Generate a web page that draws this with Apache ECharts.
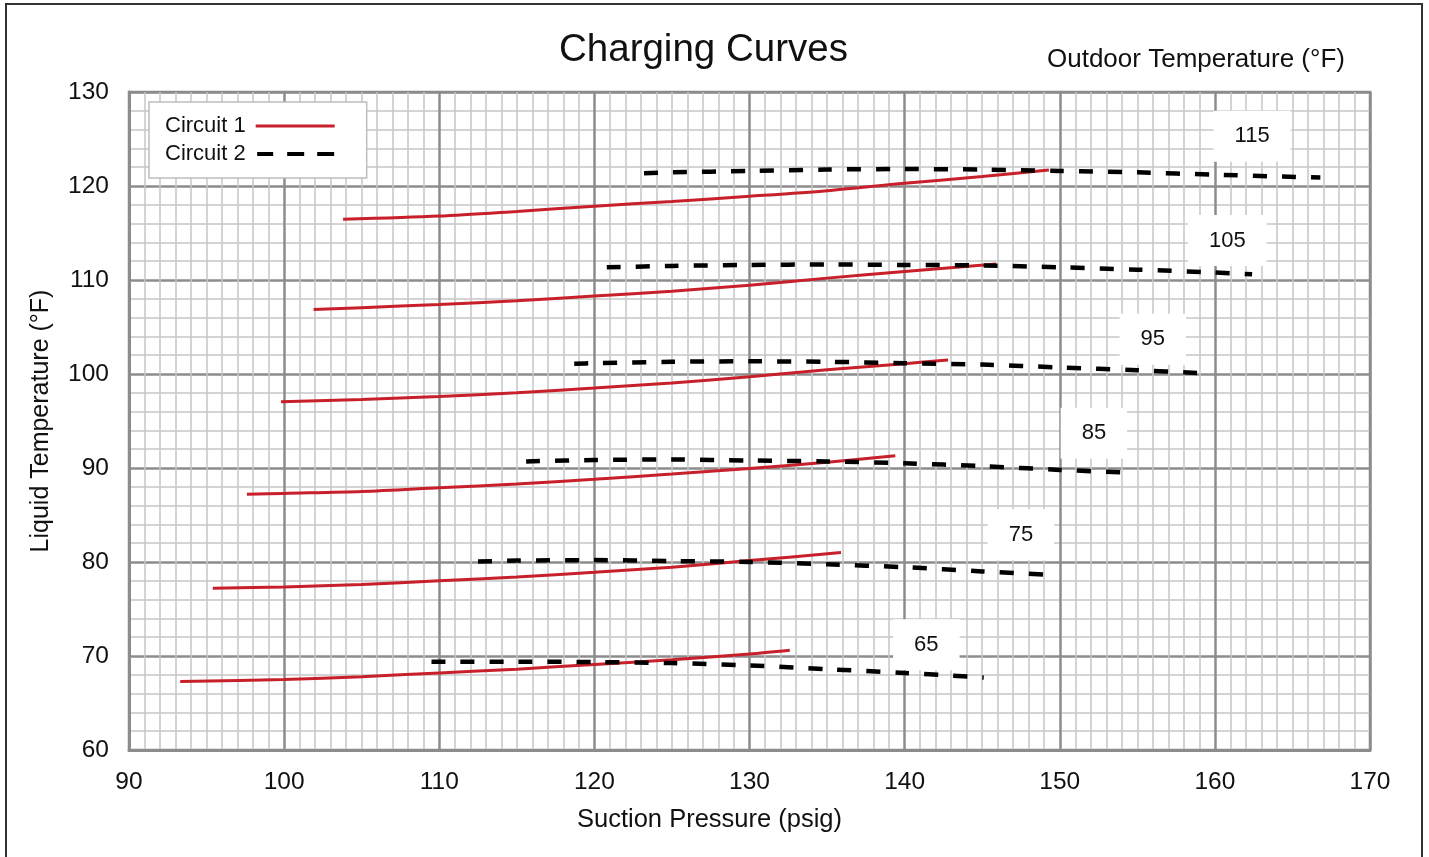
<!DOCTYPE html>
<html>
<head>
<meta charset="utf-8">
<script src="https://cdn.jsdelivr.net/npm/echarts@6/dist/echarts.min.js"></script>
<style>
html,body{margin:0;padding:0;background:#fff;}
#chart{width:1429px;height:857px;}
</style>
</head>
<body>
<div id="chart"></div>
<script>
// Outdoor temperature curve labels (°F)
const outdoorTemps = [65, 75, 85, 95, 105, 115];
// Label box positions in data units [psig, °F]
const labelPsig = [141.4, 147.5, 152.2, 156.0, 160.8, 162.4];
const labelTemp = [71.2, 82.9, 93.7, 103.7, 114.2, 125.3];

// Circuit 1 curves: [suction pressure psig, liquid temperature °F]
const c1_65 = [[93.3,67.3],[100,67.5],[105,67.8],[110,68.2],[115,68.6],[120,69.1],[125,69.6],[130,70.2],[132.6,70.6]];
const c1_75 = [[95.4,77.2],[100,77.35],[105,77.6],[110,78.0],[115,78.4],[120,78.9],[125,79.45],[130,80.15],[135.9,81.0]];
const c1_85 = [[97.6,87.2],[100,87.3],[105,87.5],[110,87.9],[115,88.3],[120,88.8],[125,89.35],[130,89.95],[135,90.6],[139.4,91.3]];
const c1_95 = [[99.8,97.05],[105,97.3],[110,97.6],[115,98.0],[120,98.5],[125,99.05],[130,99.7],[135,100.45],[140,101.1],[142.8,101.5]];
const c1_105 = [[101.9,106.85],[105,107.05],[110,107.4],[115,107.8],[120,108.3],[125,108.8],[130,109.45],[135,110.2],[140,110.9],[145.9,111.7]];
const c1_115 = [[103.8,116.45],[110,116.8],[115,117.3],[120,117.85],[125,118.35],[130,118.9],[135,119.5],[140,120.3],[145,121.0],[149.3,121.7]];

// Circuit 2 curves
const c2_65 = [[109.5,69.4],[115,69.4],[120,69.35],[125,69.25],[130,69.0],[135,68.6],[140,68.2],[145.1,67.7]];
const c2_75 = [[112.5,80.05],[115,80.15],[120,80.2],[125,80.1],[130,80.0],[135,79.75],[140,79.45],[145,79.0],[149.8,78.6]];
const c2_85 = [[115.6,90.7],[120,90.85],[125,90.9],[130,90.8],[135,90.7],[140,90.5],[145,90.2],[150,89.8],[154.6,89.5]];
const c2_95 = [[118.7,101.1],[120,101.15],[125,101.3],[130,101.35],[135,101.3],[140,101.15],[145,101.0],[150,100.7],[155,100.4],[159.1,100.1]];
const c2_105 = [[120.8,111.35],[125,111.5],[130,111.6],[135,111.65],[140,111.6],[145,111.55],[150,111.35],[155,111.1],[160,110.8],[162.4,110.6]];
const c2_115 = [[123.2,121.35],[125,121.45],[130,121.6],[135,121.75],[140,121.8],[145,121.75],[150,121.6],[155,121.45],[160,121.2],[166.8,120.9]];

const circuit1 = [c1_65, c1_75, c1_85, c1_95, c1_105, c1_115];
const circuit2 = [c2_65, c2_75, c2_85, c2_95, c2_105, c2_115];

const FONT = '"Liberation Sans", Arial, Helvetica, sans-serif';
const RED = '#c8202a';
const MAJOR = '#8c8c8c';
const MINOR = '#c6c6c6';

const series = [];
series.push({
  name: 'labels',
  type: 'scatter',
  z: 2,
  symbolSize: 0,
  silent: true,
  itemStyle: { opacity: 1 },
  data: outdoorTemps.map((t, i) => ({ value: [labelPsig[i], labelTemp[i]], name: String(t) })),
  label: {
    show: true,
    position: 'inside',
    formatter: p => p.name,
    fontFamily: FONT,
    fontSize: 22,
    color: '#111',
    opacity: 1,
    backgroundColor: '#fff',
    padding: [12, 21, 17, 21]
  }
});
circuit1.forEach(d => series.push({
  name: 'Circuit 1', type: 'line', data: d, smooth: 0.3, symbol: 'none', showSymbol: false,
  lineStyle: { color: RED, width: 3 }, itemStyle: { color: RED }, z: 3
}));
circuit2.forEach(d => series.push({
  name: 'Circuit 2', type: 'line', data: d, smooth: 0.3, symbol: 'none', showSymbol: false,
  lineStyle: { color: '#000', width: 4.5, type: [14, 15] }, itemStyle: { color: '#000' }, z: 3
}));

const chart = echarts.init(document.getElementById('chart'), null, { renderer: 'canvas' });
chart.setOption({
  animation: false,
  backgroundColor: '#fff',
  textStyle: { fontFamily: FONT },
  title: [
    { text: 'Charging Curves', left: 554, top: 26, textStyle: { fontFamily: FONT, fontSize: 38.5, fontWeight: 'normal', color: '#111' } },
    { text: 'Outdoor Temperature (°F)', left: 1042, top: 42, textStyle: { fontFamily: FONT, fontSize: 26, fontWeight: 'normal', color: '#111' } }
  ],
  legend: {
    data: [
      { name: 'Circuit 1', icon: 'path://M0,0M0,14M0,5.4H79V8.6H0Z' },
      { name: 'Circuit 2', icon: 'path://M0,0M0,14M1,5H17V9H1Z M31,5H48V9H31Z M61,5H78V9H61Z' }
    ],
    orient: 'vertical',
    align: 'right',
    left: 149, top: 102,
    itemWidth: 79, itemHeight: 14, itemGap: 6,
    padding: [13, 32, 13, 16],
    backgroundColor: '#fff',
    borderColor: '#bdbdbd', borderWidth: 1.5,
    textStyle: { fontFamily: FONT, fontSize: 22, color: '#111', padding: [0, 5, 0, 0] }
  },
  graphic: [{
    type: 'rect', z: -10,
    shape: { x: 6, y: 4, width: 1416, height: 900 },
    style: { fill: 'none', stroke: '#333', lineWidth: 2 }
  }],
  grid: { left: 129, top: 92, right: 59, bottom: 107, show: true, borderColor: MAJOR, borderWidth: 2.5 },
  xAxis: {
    type: 'value', min: 90, max: 170, interval: 10,
    name: 'Suction Pressure (psig)', nameLocation: 'middle', nameGap: 57,
    nameTextStyle: { fontFamily: FONT, fontSize: 25.5, color: '#111', padding: [0, 80, 0, 0] },
    axisLine: { show: true, lineStyle: { color: MAJOR, width: 3 } },
    axisTick: { show: false },
    axisLabel: { fontFamily: FONT, fontSize: 24.5, color: '#111', margin: 20 },
    splitLine: { show: true, lineStyle: { color: MAJOR, width: 2.5 } },
    minorTick: { show: false, splitNumber: 10 },
    minorSplitLine: { show: true, lineStyle: { color: MINOR, width: 1.5 } }
  },
  yAxis: {
    type: 'value', min: 60, max: 130, interval: 10,
    name: 'Liquid Temperature (°F)', nameLocation: 'middle', nameGap: 75, nameRotate: 90,
    nameTextStyle: { fontFamily: FONT, fontSize: 25, color: '#111' },
    axisLine: { show: true, lineStyle: { color: MAJOR, width: 3 } },
    axisTick: { show: false },
    axisLabel: { fontFamily: FONT, fontSize: 24.5, color: '#111', margin: 20 },
    splitLine: { show: true, lineStyle: { color: MAJOR, width: 2.5 } },
    minorTick: { show: false, splitNumber: 5 },
    minorSplitLine: { show: true, lineStyle: { color: MINOR, width: 1.5 } }
  },
  series: series
});
</script>
</body>
</html>
